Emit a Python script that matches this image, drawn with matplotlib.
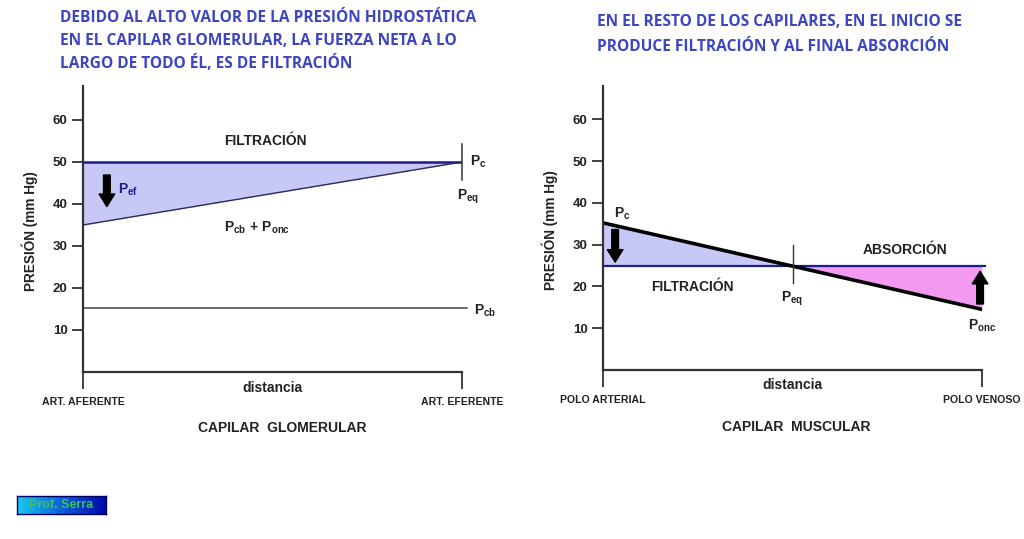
import numpy as np
import matplotlib
matplotlib.use('Agg')
import matplotlib.pyplot as plt

plt.rcParams['font.family'] = ['Liberation Sans', 'DejaVu Sans']
plt.rcParams['mathtext.fontset'] = 'custom'
plt.rcParams['mathtext.rm'] = 'Liberation Sans'
plt.rcParams['mathtext.bf'] = 'Liberation Sans:bold'
plt.rcParams['mathtext.it'] = 'Liberation Sans:italic'

# ---- datos ----
y_ticks = [10, 20, 30, 40, 50, 60]

# capilar glomerular
x_glom = [0, 1]
pc_glom = [50, 50]
pcb_ponc_glom = [35, 50]
x_pcb = [0, 1.013]
pcb_glom = [15.3, 15.3]
glom_labels = ['ART. AFERENTE', 'ART. EFERENTE']

# capilar muscular
x_musc = [0, 1]
pc_musc = [35.2, 14.5]
x_ponc = [0, 1.008]
ponc_musc = [25, 25]
musc_labels = ['POLO ARTERIAL', 'POLO VENOSO']

title_left = ['DEBIDO AL ALTO VALOR DE LA PRESIÓN HIDROSTÁTICA',
              'EN EL CAPILAR GLOMERULAR, LA FUERZA NETA A LO',
              'LARGO DE TODO ÉL, ES DE FILTRACIÓN']
title_right = ['EN EL RESTO DE LOS CAPILARES, EN EL INICIO SE',
               'PRODUCE FILTRACIÓN Y AL FINAL ABSORCIÓN']

LAV = '#c8c8f6'
PINK = '#f29af0'
NAVY = '#1c1c8e'
TITLE_C = '#3d45c2'
GRAY = '#333333'
TXT = '#222222'
W, H = 1024, 539

fig = plt.figure(figsize=(W / 100, H / 100), dpi=100)


def px_axes(left, right, top, bottom):
    return fig.add_axes([left / W, 1 - bottom / H, (right - left) / W, (bottom - top) / H])


def style_axes(ax, xlabels):
    ax.set_xlim(0, 1)
    ax.set_ylim(0, 68)
    for s in ['top', 'right']:
        ax.spines[s].set_visible(False)
    for s in ['left', 'bottom']:
        ax.spines[s].set_color(GRAY)
        ax.spines[s].set_linewidth(1.6)
    ax.set_yticks(y_ticks)
    ax.set_yticklabels([str(v) for v in y_ticks], fontsize=9.5, fontweight='bold', color=TXT)
    ax.tick_params(axis='y', length=8, width=1.3, color=GRAY, pad=3)
    ax.set_xticks([0, 1])
    ax.set_xticklabels(xlabels, fontsize=7.6, fontweight='bold', color=TXT)
    ax.tick_params(axis='x', length=12, width=1.3, color=GRAY, pad=6)
    ax.patch.set_alpha(0)


def arrow(ax, x, y0, y1):
    ax.annotate('', xy=(x, y1), xytext=(x, y0),
                arrowprops=dict(arrowstyle='simple,head_length=0.6,head_width=0.75,tail_width=0.32',
                                color='black', mutation_scale=15, shrinkA=0, shrinkB=0))


def sub(base, s):
    return r'$\mathbf{%s}_{\mathbf{%s}}$' % (base, s)


# ---- panel izquierdo ----
ax1 = px_axes(83, 462, 372 - 68 * 4.2, 372)
style_axes(ax1, glom_labels)
ax1.fill_between(x_glom, pcb_ponc_glom, pc_glom, color=LAV, lw=0)
ax1.plot(x_glom, pc_glom, color=NAVY, lw=1.8, solid_capstyle='butt')
ax1.plot(x_glom, pcb_ponc_glom, color='#2a2a55', lw=1.0)
ax1.plot(x_pcb, pcb_glom, color='#444444', lw=1.1, clip_on=False)
ax1.plot([1, 1], [45.7, 54.3], color='#333333', lw=1.1, clip_on=False)
arrow(ax1, 0.063, 46.9, 39.4)
ax1.text(0.48, 55, 'FILTRACIÓN', ha='center', va='center', fontsize=10, fontweight='bold', color=TXT)
ax1.text(1.022, 50, sub('P', 'c'), ha='left', va='center', fontsize=10, color=TXT, clip_on=False)
ax1.text(1.015, 41.7, sub('P', 'eq'), ha='center', va='center', fontsize=10, color=TXT, clip_on=False)
ax1.text(0.12, 43.5, sub('P', 'ef'), ha='center', va='center', fontsize=10, color=NAVY)
ax1.text(0.46, 34.3, sub('P', 'cb') + r'$\mathbf{\,+\,}$' + sub('P', 'onc'), ha='center', va='center',
         fontsize=10, color=TXT)
ax1.text(1.062, 14.6, sub('P', 'cb'), ha='center', va='center', fontsize=10, color=TXT, clip_on=False)
ax1.text(0.5, -3.7, 'distancia', ha='center', va='center', fontsize=10, fontweight='bold',
         color=TXT, clip_on=False)
ax1.text(0.526, -13.3, 'CAPILAR  GLOMERULAR', ha='center', va='center', fontsize=10, fontweight='bold',
         color=TXT, clip_on=False)

# ---- panel derecho ----
ax2 = px_axes(603, 982, 370 - 68 * 4.18, 370)
style_axes(ax2, musc_labels)
x_f = np.array(x_musc)
ax2.fill_between(x_f, pc_musc, ponc_musc[0], where=np.array(pc_musc) >= ponc_musc[0],
                 interpolate=True, color=LAV, lw=0)
ax2.fill_between(x_f, pc_musc, ponc_musc[0], where=np.array(pc_musc) <= ponc_musc[0],
                 interpolate=True, color=PINK, lw=0)
ax2.plot(x_ponc, ponc_musc, color=NAVY, lw=1.6, clip_on=False)
ax2.plot(x_musc, pc_musc, color='black', lw=2.6)
ax2.plot([0.5, 0.5], [20.7, 29.8], color='#333333', lw=1.0)
arrow(ax2, 0.032, 33.6, 25.8)
arrow(ax2, 0.995, 15.8, 23.6)
ax2.text(0.05, 37.4, sub('P', 'c'), ha='center', va='center', fontsize=10, color=TXT)
ax2.text(0.235, 19.8, 'FILTRACIÓN', ha='center', va='center', fontsize=10, fontweight='bold', color=TXT)
ax2.text(0.797, 28.6, 'ABSORCIÓN', ha='center', va='center', fontsize=10, fontweight='bold', color=TXT)
ax2.text(0.5, 17.0, sub('P', 'eq'), ha='center', va='center', fontsize=10, color=TXT)
ax2.text(1.0, 10.6, sub('P', 'onc'), ha='center', va='center', fontsize=10, color=TXT, clip_on=False)
ax2.text(0.5, -3.7, 'distancia', ha='center', va='center', fontsize=10, fontweight='bold',
         color=TXT, clip_on=False)
ax2.text(0.51, -13.6, 'CAPILAR  MUSCULAR', ha='center', va='center', fontsize=10, fontweight='bold',
         color=TXT, clip_on=False)

# etiquetas del eje y
fig.text(30 / W, 1 - 231 / H, 'PRESIÓN (mm Hg)', rotation=90, ha='center', va='center',
         fontsize=9.8, fontweight='bold', color=TXT)
fig.text(550 / W, 1 - 230 / H, 'PRESIÓN (mm Hg)', rotation=90, ha='center', va='center',
         fontsize=9.8, fontweight='bold', color=TXT)

# titulos, una linea cada vez (centro vertical en px)
for line, yc in zip(title_left, [18, 41, 63]):
    fig.text(60 / W, 1 - yc / H, line, ha='left', va='center', fontsize=11.2, fontweight='bold',
             color=TITLE_C, family=['Open Sans', 'DejaVu Sans'])
for line, yc in zip(title_right, [22, 47]):
    fig.text(597 / W, 1 - yc / H, line, ha='left', va='center', fontsize=11.2, fontweight='bold',
             color=TITLE_C, family=['Open Sans', 'DejaVu Sans'])

# sello "Prof. Serra"
axb = px_axes(17, 106, 496, 514)
grad = np.linspace(0, 1, 100).reshape(1, -1)
cmap = matplotlib.colors.LinearSegmentedColormap.from_list('b', ['#18c8f0', '#1060d8', '#0008a8'])
axb.imshow(grad, aspect='auto', cmap=cmap, extent=[0, 1, 0, 1])
axb.set_xticks([])
axb.set_yticks([])
for s in axb.spines.values():
    s.set_color('#000060')
    s.set_linewidth(1)
axb.text(0.5, 0.5, 'Prof. Serra', ha='center', va='center', fontsize=9, fontweight='bold',
         color='#3cc060', transform=axb.transAxes)

fig.savefig('out.png', dpi=100, facecolor='white')
